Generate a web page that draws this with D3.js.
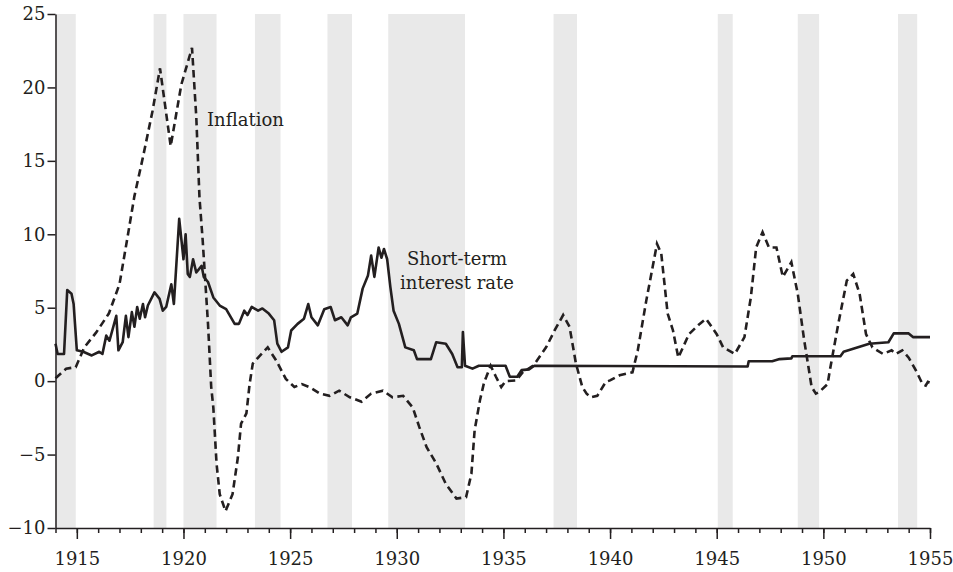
<!DOCTYPE html>
<html>
<head>
<meta charset="utf-8">
<script src="https://cdn.jsdelivr.net/npm/d3@7"></script>
<style>
  body { margin: 0; background: #fff; }
  svg text { font-family: 'DejaVu Serif', serif; fill: #231f20; }
</style>
</head>
<body>
<div id="chart"></div>
<script>
// recessions [start, end] in decimal years
const recessions = [
  [1914.0, 1914.95], [1918.6, 1919.2], [1920.0, 1921.55], [1923.35, 1924.55],
  [1926.75, 1927.9], [1929.6, 1933.2], [1937.35, 1938.45], [1945.05, 1945.75],
  [1948.8, 1949.8], [1953.5, 1954.4]
]

// inflation, [year, percent]
const inflation = [
  [1914.0, 0.2], [1914.5, 0.85], [1914.95, 0.95], [1915.35, 2.3], [1915.9, 3.3],
  [1916.5, 4.6], [1917.0, 6.6], [1917.4, 10.0], [1917.7, 12.6], [1918.1, 15.25],
  [1918.55, 18.4], [1918.9, 21.3], [1919.4, 16.0], [1919.9, 20.2], [1920.4, 22.7],
  [1920.6, 18.0], [1920.75, 12.5], [1920.9, 9.6], [1921.15, 3.9], [1921.3, -0.4],
  [1921.4, -1.8], [1921.55, -5.6], [1921.7, -7.7], [1921.97, -8.85], [1922.3, -7.7],
  [1922.55, -5.2], [1922.7, -2.9], [1922.95, -2.2], [1923.1, -0.2], [1923.25, 1.2],
  [1923.5, 1.6], [1923.95, 2.3], [1924.35, 1.4], [1924.8, 0.15], [1925.2, -0.4],
  [1925.55, -0.2], [1925.9, -0.4], [1926.4, -0.85], [1926.85, -1.0], [1927.3, -0.65],
  [1927.8, -1.1], [1928.35, -1.4], [1928.8, -0.85], [1929.35, -0.65], [1929.8, -1.1],
  [1930.3, -1.0], [1930.75, -1.8], [1931.05, -3.1], [1931.4, -4.5], [1931.85, -5.6],
  [1932.3, -7.0], [1932.8, -8.0], [1933.25, -7.9], [1933.5, -6.3], [1933.65, -3.35],
  [1933.9, -1.3], [1934.1, -0.05], [1934.2, 0.3], [1934.4, 1.05], [1934.65, 0.3],
  [1934.9, -0.4], [1935.1, 0.0], [1935.6, 0.05], [1935.9, 0.6], [1936.4, 1.05],
  [1937.0, 2.3], [1937.4, 3.45], [1937.8, 4.5], [1938.1, 3.7], [1938.4, 1.2],
  [1938.7, -0.4], [1938.9, -0.85], [1939.1, -1.1], [1939.4, -1.0], [1939.8, -0.05],
  [1940.0, 0.05], [1940.45, 0.4], [1941.05, 0.6], [1941.3, 2.1], [1941.7, 5.5],
  [1942.0, 7.8], [1942.2, 9.35], [1942.4, 8.7], [1942.7, 4.6], [1942.95, 3.45],
  [1943.2, 1.6], [1943.7, 3.2], [1944.2, 3.9], [1944.5, 4.25], [1945.0, 3.2],
  [1945.3, 2.3], [1945.85, 1.85], [1946.3, 3.0], [1946.6, 5.7], [1946.85, 9.1],
  [1947.15, 10.15], [1947.45, 9.1], [1947.8, 9.1], [1948.1, 7.1], [1948.5, 8.1],
  [1948.8, 5.95], [1949.1, 2.8], [1949.45, -0.4], [1949.65, -0.85], [1949.8, -0.75],
  [1950.2, -0.2], [1950.3, 0.7], [1950.7, 3.9], [1951.1, 6.85], [1951.4, 7.3],
  [1951.7, 5.95], [1952.0, 3.2], [1952.3, 2.3], [1952.8, 1.85], [1953.2, 2.1],
  [1953.4, 1.85], [1953.7, 2.1], [1954.0, 1.6], [1954.35, 0.7], [1954.65, -0.2],
  [1954.8, -0.3], [1954.9, -0.05], [1955.0, -0.1]
]

// short-term interest rate, [year, percent]
const rate = [
  [1914.0, 2.55], [1914.1, 1.85], [1914.4, 1.85], [1914.55, 6.2], [1914.75, 5.95],
  [1914.85, 5.25], [1915.0, 2.1], [1915.3, 2.0], [1915.7, 1.75], [1916.05, 2.0],
  [1916.2, 1.85], [1916.38, 3.1], [1916.53, 2.75], [1916.85, 4.45], [1916.95, 2.1],
  [1917.15, 2.65], [1917.3, 4.45], [1917.42, 3.0], [1917.58, 4.7], [1917.7, 3.7],
  [1917.83, 5.05], [1917.95, 4.25], [1918.1, 5.25], [1918.2, 4.35], [1918.33, 5.15],
  [1918.64, 6.05], [1918.88, 5.6], [1919.03, 4.8], [1919.19, 5.05], [1919.43, 6.6],
  [1919.55, 5.25], [1919.8, 11.05], [1920.0, 8.3],
  [1920.1, 10.0], [1920.2, 7.3], [1920.3, 7.1], [1920.45, 8.3], [1920.6, 7.4],
  [1920.85, 7.85], [1920.95, 7.1], [1921.15, 6.75], [1921.4, 5.7], [1921.7, 5.15],
  [1922.0, 4.9], [1922.4, 3.9], [1922.6, 3.9], [1922.85, 4.8], [1923.0, 4.5],
  [1923.2, 5.05], [1923.5, 4.8], [1923.7, 4.95], [1924.0, 4.6], [1924.25, 4.15],
  [1924.4, 2.55], [1924.6, 2.0], [1924.9, 2.3], [1925.05, 3.45], [1925.35, 3.9],
  [1925.65, 4.25], [1925.85, 5.25], [1926.0, 4.35], [1926.3, 3.8], [1926.6, 4.9],
  [1926.9, 5.05], [1927.1, 4.15], [1927.4, 4.35], [1927.7, 3.8], [1927.85, 4.35],
  [1928.15, 4.6], [1928.4, 6.3], [1928.65, 7.2], [1928.8, 8.55], [1928.95, 7.1],
  [1929.15, 9.1], [1929.28, 8.4], [1929.4, 9.0], [1929.55, 8.3], [1929.7, 6.4],
  [1929.85, 4.8], [1930.1, 3.9], [1930.4, 2.3], [1930.8, 2.1], [1930.95, 1.5],
  [1931.6, 1.5], [1931.85, 2.65], [1932.3, 2.55], [1932.6, 1.85], [1932.85, 0.95],
  [1933.05, 0.95], [1933.1, 3.35], [1933.2, 1.05], [1933.55, 0.85], [1933.85, 1.05],
  [1935.1, 1.05], [1935.3, 0.3], [1935.65, 0.3], [1935.85, 0.75], [1936.2, 0.8],
  [1936.45, 1.05], [1946.45, 1.0], [1946.5, 1.35], [1947.6, 1.35], [1947.95, 1.5],
  [1948.5, 1.55], [1948.55, 1.7], [1950.8, 1.7], [1950.95, 2.0], [1951.4, 2.2],
  [1952.15, 2.55], [1953.05, 2.65], [1953.3, 3.25], [1954.0, 3.25], [1954.2, 3.0],
  [1955.0, 3.0]
]

const yTicks = [-10, -5, 0, 5, 10, 15, 20, 25]
const majorYears = [1915, 1920, 1925, 1930, 1935, 1940, 1945, 1950, 1955]
const allYears = d3.range(1914, 1956)

const width = 953
const height = 572
const svg = d3.select('#chart')
  .append('svg')
  .attr('width', width)
  .attr('height', height)

const xScale = d3.scaleLinear()
  .domain([1914, 1955])
  .range([55.5, 930])
const yScale = d3.scaleLinear()
  .domain([-10, 25])
  .range([528, 14])

// recession shading
svg.append('g')
  .selectAll('rect')
  .data(recessions)
  .join('rect')
  .attr('x', d => xScale(d[0]))
  .attr('width', d => xScale(d[1]) - xScale(d[0]))
  .attr('y', yScale(25))
  .attr('height', yScale(-10) - yScale(25))
  .attr('fill', '#e9e9e9')

const line = d3.line()
  .x(d => xScale(d[0]))
  .y(d => yScale(d[1]))

svg.append('path')
  .datum(inflation)
  .attr('d', line)
  .attr('fill', 'none')
  .attr('stroke', '#231f20')
  .attr('stroke-width', 2.6)
  .attr('stroke-dasharray', '7.5,4.5')

svg.append('path')
  .datum(rate)
  .attr('d', line)
  .attr('fill', 'none')
  .attr('stroke', '#231f20')
  .attr('stroke-width', 2.6)
  .attr('stroke-linejoin', 'round')

// axes
const axisY = d3.axisLeft(yScale).tickValues(yTicks).tickSize(8).tickSizeOuter(0).tickPadding(2)
const axisXMinor = d3.axisBottom(xScale).tickValues(allYears).tickSize(5).tickSizeOuter(0).tickFormat('')
const axisXMajor = d3.axisBottom(xScale).tickValues(majorYears).tickSize(11).tickSizeOuter(0).tickFormat(d3.format('d')).tickPadding(13)

svg.append('g')
  .attr('transform', `translate(${xScale(1914)}, 0)`)
  .call(axisY)
svg.append('g')
  .attr('transform', `translate(0, ${yScale(-10)})`)
  .call(axisXMinor)
const gx2 = svg.append('g')
  .attr('transform', `translate(0, ${yScale(-10)})`)
  .call(axisXMajor)
gx2.select('.domain').remove()

svg.selectAll('.domain, .tick line')
  .attr('stroke', '#231f20')
  .attr('stroke-width', 1.5)
svg.selectAll('.tick text')
  .style('font-family', "'DejaVu Serif', serif")
  .style('font-size', '18px')
  .attr('fill', '#231f20')

// labels
svg.append('text')
  .attr('x', 207)
  .attr('y', 126)
  .style('font-size', '18px')
  .text('Inflation')
svg.append('text')
  .attr('x', 457)
  .attr('y', 265)
  .attr('text-anchor', 'middle')
  .style('font-size', '18px')
  .text('Short-term')
svg.append('text')
  .attr('x', 457)
  .attr('y', 289)
  .attr('text-anchor', 'middle')
  .style('font-size', '18px')
  .text('interest rate')
</script>
</body>
</html>
